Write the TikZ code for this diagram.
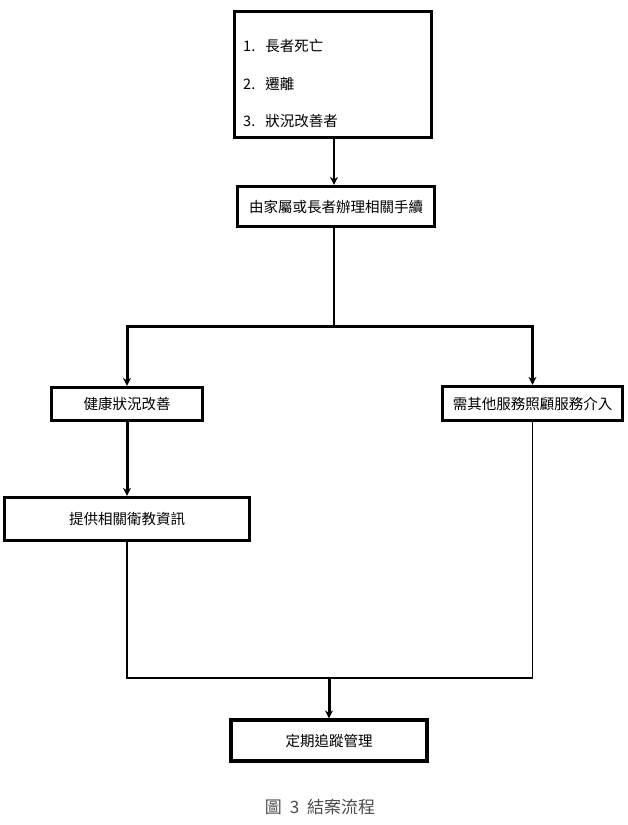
\documentclass[tikz,border=0pt]{standalone}
\usepackage{fontspec}
\newfontfamily\cjk{Noto Sans CJK TC}
\usetikzlibrary{arrows.meta}
\begin{document}
\begin{tikzpicture}[x=1pt,y=-1pt,
  box/.style={draw=black,line width=3.2pt,fill=white,inner sep=0pt,
    font=\cjk\fontsize{14.5}{16}\selectfont},
  itemtxt/.style={anchor=west,inner sep=0pt,font=\cjk\fontsize{14.5}{16}\selectfont},
  thinline/.style={line width=1.3pt},
  midline/.style={line width=2pt},
  thickline/.style={line width=3pt},
  tip/.style={-{Stealth[length=8pt,width=8pt,inset=2.5pt]}}]
\useasboundingbox (0,0) rectangle (627,825);
% boxes
\node[box,minimum width=197pt,minimum height=126pt] (top) at (333,74.5) {};
\node[itemtxt] (i1) at (243,46) {1.\hspace{10pt}長者死亡};
\node[itemtxt] (i2) at (243,84) {2.\hspace{10pt}遷離};
\node[itemtxt] (i3) at (243,121) {3.\hspace{10pt}狀況改善者};
\node[box,minimum width=197pt,minimum height=40pt] (proc) at (336,206.5) {由家屬或長者辦理相關手續\hspace{6pt}};
\node[box,minimum width=151pt,minimum height=33pt] (health) at (127,404) {健康狀況改善};
\node[box,minimum width=180pt,minimum height=34pt] (need) at (532.5,403.5) {需其他服務照顧服務介入};
\node[box,minimum width=245pt,minimum height=43pt] (edu) at (127,519) {提供相關衛教資訊};
\node[box,minimum width=196pt,minimum height=41pt] (track) at (329,740.5) {定期追蹤管理};
\node[inner sep=0pt,text=black!70,font=\cjk\fontsize{17}{19}\selectfont] (cap) at (320,807) {圖\hspace{8pt}3\hspace{8pt}結案流程};
% connectors
\coordinate (ja) at (334,0);
\coordinate (j1) at (334,326);
\coordinate (j2) at (329,678);
\draw[midline,tip] (top.south -| ja) -- (proc.north -| ja);
\draw[midline] (proc.south -| j1) -- (j1);
\draw[thickline,tip] (j1) -| (health.north);
\draw[thickline,tip] (j1) -| (need.north);
\draw[thickline,tip] (health.south) -- (edu.north);
\draw[thinline] (edu.south) |- (j2);
\draw[thinline] (need.south) |- (j2);
\draw[thickline,tip] (j2) -- (track.north);
\end{tikzpicture}
\end{document}
